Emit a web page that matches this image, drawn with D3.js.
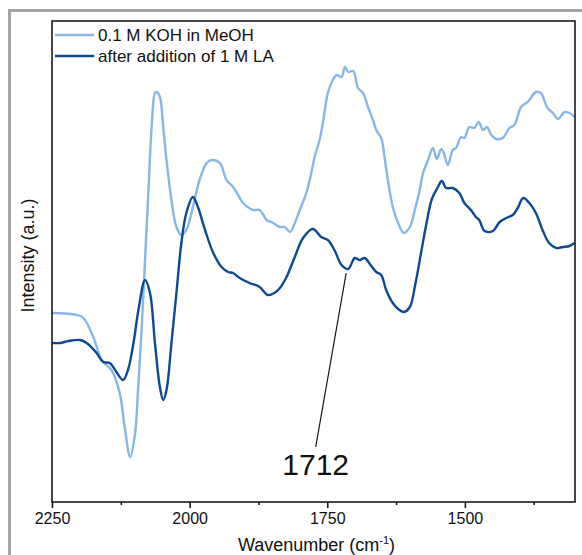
<!DOCTYPE html>
<html>
<head>
<meta charset="utf-8">
<script src="https://cdn.jsdelivr.net/npm/d3@7"></script>
<style>
  html, body { margin: 0; padding: 0; background: #fff; }
  svg { display: block; font-family: Arial, 'Liberation Sans', sans-serif; }
</style>
</head>
<body>
<div id="chart"></div>
<script>
// ── Data (intensity in arbitrary units) ─────────────────────────────
const SERIES_NAMES = ['0.1 M KOH in MeOH', 'after addition of 1 M LA'];
const SERIES_COLORS = ['#86b7e7', '#0c4a93'];

const kohWavenumber = [2250, 2205, 2193, 2175, 2160, 2151, 2142, 2127, 2118, 2108, 2099, 2094, 2087, 2081,
  2075, 2069, 2063, 2060, 2054, 2048, 2042, 2033, 2024, 2015, 2006, 1994, 1982, 1969, 1960, 1945, 1933,
  1921, 1909, 1903, 1885, 1873, 1860, 1848, 1836, 1827, 1818, 1809, 1800, 1788, 1779, 1773, 1764, 1758,
  1749, 1740, 1733, 1724, 1718, 1712, 1703, 1694, 1685, 1676, 1667, 1661, 1652, 1646, 1640, 1631, 1622,
  1611, 1600, 1591, 1582, 1576, 1567, 1558, 1551, 1543, 1539, 1531, 1522, 1516, 1507, 1501, 1492, 1483,
  1475, 1467, 1460, 1452, 1443, 1431, 1419, 1410, 1398, 1386, 1371, 1362, 1350, 1340, 1331, 1319, 1310, 1301];
const kohIntensity = [189, 187, 184, 165, 142, 137, 132, 109, 75, 45, 69, 109, 175, 242,
  309, 375, 409, 410, 405, 375, 342, 302, 275, 267, 272, 295, 322, 339, 342, 339, 322,
  315, 304, 299, 292, 292, 282, 279, 275, 275, 270, 279, 292, 309, 329, 345, 362, 379,
  409, 422, 427, 425, 435, 430, 431, 414, 409, 395, 382, 372, 364, 345, 322, 295, 280,
  269, 275, 292, 312, 329, 342, 354, 343, 353, 350, 337, 352, 354, 365, 364, 375, 374,
  380, 372, 375, 367, 363, 364, 374, 377, 395, 400, 410, 409, 394, 389, 383, 390, 389, 385];

const laWavenumber = [2250, 2235, 2220, 2199, 2187, 2169, 2157, 2145, 2133, 2121, 2112, 2102, 2093, 2081,
  2072, 2063, 2054, 2048, 2042, 2033, 2024, 2015, 2006, 1994, 1985, 1972, 1957, 1942, 1930, 1921, 1909,
  1891, 1873, 1858, 1846, 1836, 1824, 1809, 1794, 1776, 1761, 1749, 1737, 1724, 1712, 1700, 1691, 1682,
  1670, 1661, 1652, 1643, 1631, 1619, 1611, 1600, 1590, 1580, 1570, 1560, 1549, 1542, 1534,
  1522, 1510, 1501, 1489, 1480, 1474, 1464, 1449, 1437, 1425, 1413, 1404, 1394, 1383, 1371, 1359, 1347,
  1334, 1322, 1310, 1301];
const laIntensity = [159, 159, 161, 162, 159, 149, 140, 139, 130, 122, 132, 159, 192, 222,
  209, 159, 115, 102, 112, 159, 209, 259, 289, 305, 295, 272, 249, 235, 230, 229, 224,
  219, 215, 207, 209, 214, 225, 245, 264, 273, 265, 262, 252, 237, 233, 244, 242, 244,
  236, 230, 227, 212, 199, 192, 190, 195, 218, 248, 278, 303, 315, 321, 314,
  314, 309, 299, 292, 285, 282, 271, 271, 280, 284, 287, 294, 304, 299, 289, 272, 259,
  254, 255, 256, 259];

const X_TICKS = [2250, 2000, 1750, 1500];
const X_MINOR_TICKS = [2125, 1875, 1625, 1375];
const X_DOMAIN = [2250, 1300];
const Y_DOMAIN = [0, 481];

const ANNOTATION = { label: '1712', at: 1712, textAt: 1771, textLevel: 27, lineEnd: 55 };

// ── Layout ─────────────────────────────────────────────────────────
const width = 582, height = 555;
const margin = { top: 21, right: 7, bottom: 53, left: 52 };
const innerW = width - margin.left - margin.right;
const innerH = height - margin.top - margin.bottom;
const FONT = "Arial, 'Liberation Sans', sans-serif";

const svg = d3.select('#chart').append('svg')
  .attr('width', width)
  .attr('height', height);

// outer grey frame (image border)
svg.append('rect')
  .attr('x', 9.5).attr('y', 10.5)
  .attr('width', 700).attr('height', 700)
  .attr('fill', 'none')
  .attr('stroke', '#a6a6a6')
  .attr('stroke-width', 3);

const g = svg.append('g').attr('transform', `translate(${margin.left},${margin.top})`);

const x = d3.scaleLinear().domain(X_DOMAIN).range([0, innerW]);
const y = d3.scaleLinear().domain(Y_DOMAIN).range([innerH, 0]);

svg.append('defs').append('clipPath').attr('id', 'plot-clip')
  .append('rect').attr('width', innerW).attr('height', innerH);

// ── Lines ──────────────────────────────────────────────────────────
const line = d3.line()
  .x(d => x(d[0]))
  .y(d => y(d[1]))
  .curve(d3.curveCatmullRom.alpha(0.5));

const series = [
  d3.zip(kohWavenumber, kohIntensity),
  d3.zip(laWavenumber, laIntensity),
];

const linesG = g.append('g').attr('clip-path', 'url(#plot-clip)');
series.forEach((pts, i) => {
  linesG.append('path')
    .datum(pts)
    .attr('fill', 'none')
    .attr('stroke', SERIES_COLORS[i])
    .attr('stroke-width', 2.4)
    .attr('stroke-linejoin', 'round')
    .attr('d', line);
});

// ── Axes ───────────────────────────────────────────────────────────
const xAxis = g.append('g')
  .attr('transform', `translate(0,${innerH})`)
  .call(d3.axisBottom(x).tickValues(X_TICKS).tickFormat(d3.format('d')).tickSize(6).tickPadding(5));
xAxis.select('.domain').remove();
xAxis.selectAll('line').attr('stroke', '#1a1a1a').attr('stroke-width', 1.6);
xAxis.selectAll('text').attr('font-size', 16).attr('font-family', FONT).attr('fill', '#111');

const xMinor = g.append('g')
  .attr('transform', `translate(0,${innerH})`)
  .call(d3.axisBottom(x).tickValues(X_MINOR_TICKS).tickFormat('').tickSize(3));
xMinor.select('.domain').remove();
xMinor.selectAll('line').attr('stroke', '#1a1a1a').attr('stroke-width', 1.6);

// plot frame
g.append('rect')
  .attr('width', innerW).attr('height', innerH)
  .attr('fill', 'none')
  .attr('stroke', '#1a1a1a')
  .attr('stroke-width', 1.6);

// axis titles
const xTitle = g.append('text')
  .attr('x', innerW / 2 + 3)
  .attr('y', innerH + 49)
  .attr('text-anchor', 'middle')
  .attr('font-size', 18)
  .attr('fill', '#111')
  .text('Wavenumber (cm');
xTitle.append('tspan').attr('font-size', 11).attr('dy', -7).text('-1');
xTitle.append('tspan').attr('dy', 7).text(')');

g.append('text')
  .attr('transform', 'rotate(-90)')
  .attr('x', -(innerH / 2) + 6)
  .attr('y', -18)
  .attr('text-anchor', 'middle')
  .attr('font-size', 18)
  .attr('fill', '#111')
  .text('Intensity (a.u.)');

// ── Annotation ─────────────────────────────────────────────────────
const laAt = laIntensity[laWavenumber.indexOf(ANNOTATION.at)];
g.append('line')
  .attr('x1', x(ANNOTATION.at) - 2).attr('y1', y(laAt) + 4)
  .attr('x2', x(ANNOTATION.textAt)).attr('y2', y(ANNOTATION.lineEnd))
  .attr('stroke', '#111')
  .attr('stroke-width', 1.2);

g.append('text')
  .attr('x', x(ANNOTATION.textAt))
  .attr('y', y(ANNOTATION.textLevel))
  .attr('text-anchor', 'middle')
  .attr('font-size', 30)
  .attr('fill', '#111')
  .text(ANNOTATION.label);

// ── Legend ─────────────────────────────────────────────────────────
const legend = g.append('g').attr('transform', 'translate(3, 14)');
SERIES_NAMES.forEach((name, i) => {
  const ly = i * 21;
  legend.append('line')
    .attr('x1', 0).attr('x2', 39)
    .attr('y1', ly).attr('y2', ly)
    .attr('stroke', SERIES_COLORS[i])
    .attr('stroke-width', 2.4);
  legend.append('text')
    .attr('x', 43).attr('y', ly + 6)
    .attr('font-size', 17)
    .attr('fill', '#111')
    .text(name);
});
</script>
</body>
</html>
